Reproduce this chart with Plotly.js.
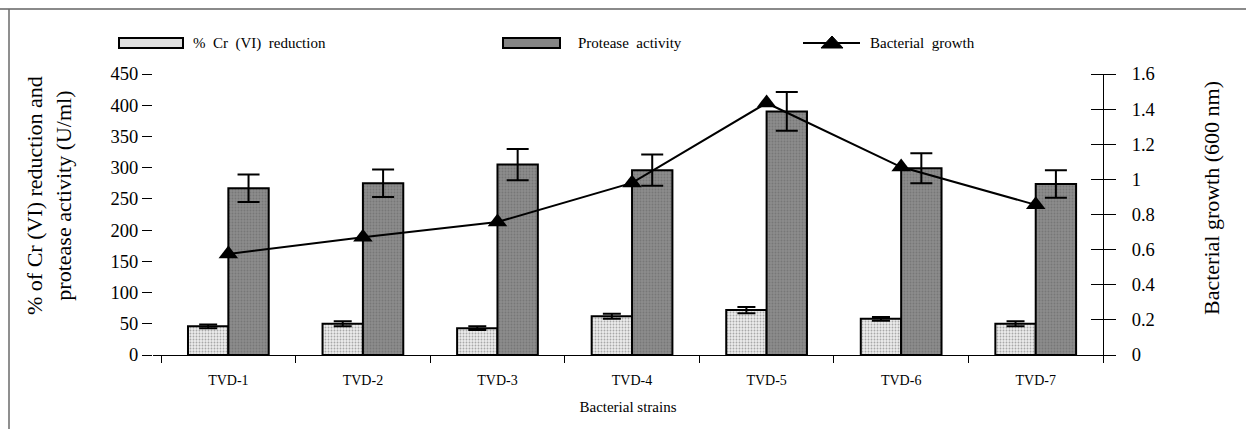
<!DOCTYPE html>
<html>
<head>
<meta charset="utf-8">
<script src="https://cdn.plot.ly/plotly-3.0.1.min.js"></script>
<style>html,body{margin:0;padding:0;background:#fff;}#chart{width:1246px;height:429px;}</style>
</head>
<body>
<div id="chart"></div>
<script>
const strains = ["TVD-1","TVD-2","TVD-3","TVD-4","TVD-5","TVD-6","TVD-7"];
const crReduction = [46, 50, 43, 62, 72, 58, 50];
const crError = [3, 4, 3, 4, 5, 3, 4];
const proteaseActivity = [267, 275, 305, 296, 390, 299, 274];
const proteaseError = [22, 22, 25, 25, 31, 24, 22];
const bacterialGrowth = [0.575, 0.67, 0.757, 0.98, 1.435, 1.07, 0.855];
const leftTicks = [0,50,100,150,200,250,300,350,400,450];
const rightTicks = [0,0.2,0.4,0.6,0.8,1,1.2,1.4,1.6];
const rightTickText = ["0","0.2","0.4","0.6","0.8","1","1.2","1.4","1.6"];

const FONT = "Liberation Serif, Times New Roman, serif";

const traces = [
  {
    type: "bar", name: "% Cr (VI) reduction", x: strains, y: crReduction,
    marker: {color: "#dcdcdc", line: {color: "#000", width: 2},
      pattern: {shape: ".", fgcolor: "#a8a8a8", bgcolor: "#ececec", size: 3, solidity: 0.3}},
    error_y: {type: "data", array: crError, visible: true, color: "#000", thickness: 2, width: 9},
    showlegend: false
  },
  {
    type: "bar", name: "Protease activity", x: strains, y: proteaseActivity,
    marker: {color: "#858585", line: {color: "#000", width: 2},
      pattern: {shape: ".", fgcolor: "#777777", bgcolor: "#8c8c8c", size: 3, solidity: 0.3}},
    error_y: {type: "data", array: proteaseError, visible: true, color: "#000", thickness: 2, width: 11},
    showlegend: false
  },
  {
    type: "scatter", mode: "lines+markers", name: "Bacterial growth", x: strains, y: bacterialGrowth,
    yaxis: "y2", line: {color: "#000", width: 2},
    marker: {symbol: "triangle-up", size: 17, color: "#000"},
    showlegend: false
  },
  {
    // carrier for the inner half of the right-axis ticks
    type: "scatter", mode: "markers", x: strains, y: bacterialGrowth, yaxis: "y3",
    marker: {opacity: 0, size: 1}, hoverinfo: "skip", showlegend: false
  }
];

// pixel helpers for paper coordinates (plot area: x 153..1103, y 74..355)
const L = 153, R = 1103, T = 74, B = 355;
const px = v => (v - L) / (R - L);
const py = v => (B - v) / (B - T);

const legendY = 43;
const shapes = [
  {type: "line", xref: "paper", yref: "paper", x0: px(0), x1: px(1246), y0: py(9), y1: py(9), line: {color: "#8a8a8a", width: 2}},
  {type: "line", xref: "paper", yref: "paper", x0: px(9), x1: px(9), y0: py(9), y1: py(429), line: {color: "#6a6a6a", width: 1.5}},
  {type: "rect", xref: "paper", yref: "paper", x0: px(119), x1: px(183), y0: py(38), y1: py(48), fillcolor: "#e0e0e0", line: {color: "#000", width: 2}},
  {type: "rect", xref: "paper", yref: "paper", x0: px(503), x1: px(560), y0: py(38), y1: py(48), fillcolor: "#858585", line: {color: "#000", width: 2}},
  {type: "line", xref: "paper", yref: "paper", x0: px(803), x1: px(860), y0: py(legendY), y1: py(legendY), line: {color: "#000", width: 2}},
  {type: "path", xref: "paper", yref: "paper", xsizemode: "pixel", ysizemode: "pixel",
   xanchor: px(832), yanchor: py(legendY), path: "M-11,-5 L11,-5 L0,7 Z", fillcolor: "#000", line: {color: "#000", width: 1}}
];

const annotations = [
  {xref: "paper", yref: "paper", x: px(191), y: py(legendY), xanchor: "left", yanchor: "middle", showarrow: false, text: "%  Cr  (VI)  reduction", font: {family: FONT, size: 15, color: "#000"}},
  {xref: "paper", yref: "paper", x: px(576), y: py(legendY), xanchor: "left", yanchor: "middle", showarrow: false, text: "Protease  activity", font: {family: FONT, size: 15, color: "#000"}},
  {xref: "paper", yref: "paper", x: px(868), y: py(legendY), xanchor: "left", yanchor: "middle", showarrow: false, text: "Bacterial  growth", font: {family: FONT, size: 15, color: "#000"}},
  // axis titles
  {xref: "paper", yref: "paper", x: px(49), y: py(196), xanchor: "center", yanchor: "middle", textangle: -90, showarrow: false,
   text: "% of Cr (VI) reduction and<br>protease activity (U/ml)", font: {family: FONT, size: 22, color: "#000"}},
  {xref: "paper", yref: "paper", x: px(1211), y: py(198), xanchor: "center", yanchor: "middle", textangle: -90, showarrow: false,
   text: "Bacterial growth (600 nm)", font: {family: FONT, size: 22, color: "#000"}}
];

const layout = {
  width: 1246, height: 429,
  margin: {l: L, r: 1246 - R, t: T, b: 429 - B, pad: 0},
  paper_bgcolor: "#fff", plot_bgcolor: "#fff",
  font: {family: FONT, color: "#000"},
  barmode: "group", bargap: 0.4, bargroupgap: 0,
  showlegend: false,
  xaxis: {
    type: "category", range: [-0.56, 6.5], tickson: "boundaries",
    ticks: "outside", ticklen: 7, tickcolor: "#000", tickwidth: 1,
    showline: true, linecolor: "#000", linewidth: 1, showgrid: false, zeroline: false,
    tickfont: {family: FONT, size: 14, color: "#000"}, ticklabelstandoff: 12,
    title: {text: "Bacterial strains", font: {family: FONT, size: 15, color: "#000"}, standoff: 14}
  },
  yaxis: {
    range: [0, 450], tickvals: leftTicks, ticks: "outside", ticklen: 10, tickcolor: "#000",
    showline: false, showgrid: false, zeroline: false,
    tickfont: {family: FONT, size: 18.5, color: "#000"}
  },
  yaxis2: {
    range: [0, 1.6], tickvals: rightTicks, ticktext: rightTickText, overlaying: "y", side: "right",
    ticks: "outside", ticklen: 12, tickcolor: "#000",
    showline: true, linecolor: "#000", linewidth: 1, showgrid: false, zeroline: false,
    tickfont: {family: FONT, size: 18.5, color: "#000"}, ticklabelstandoff: 12
  },
  yaxis3: {
    range: [0, 1.6], tickvals: rightTicks, overlaying: "y", side: "left", anchor: "free", position: 1,
    ticks: "outside", ticklen: 12, tickcolor: "#000", showticklabels: false,
    showline: false, showgrid: false, zeroline: false
  },
  shapes: shapes,
  annotations: annotations
};

Plotly.newPlot("chart", traces, layout, {displayModeBar: false, staticPlot: true});
</script>
</body>
</html>
